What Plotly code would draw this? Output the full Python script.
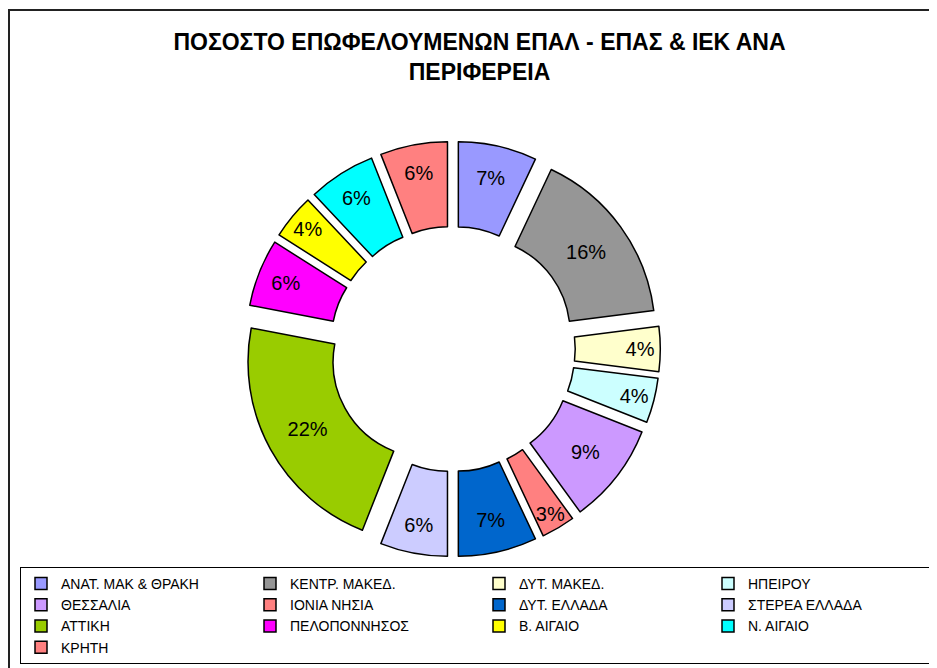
import plotly.graph_objects as go

regions = ["ΑΝΑΤ. ΜΑΚ & ΘΡΑΚΗ", "ΚΕΝΤΡ. ΜΑΚΕΔ.", "ΔΥΤ. ΜΑΚΕΔ.", "ΗΠΕΙΡΟΥ",
           "ΘΕΣΣΑΛΙΑ", "ΙΟΝΙΑ ΝΗΣΙΑ", "ΔΥΤ. ΕΛΛΑΔΑ", "ΣΤΕΡΕΑ ΕΛΛΑΔΑ",
           "ΑΤΤΙΚΗ", "ΠΕΛΟΠΟΝΝΗΣΟΣ", "Β. ΑΙΓΑΙΟ", "Ν. ΑΙΓΑΙΟ", "ΚΡΗΤΗ"]
shares = [7, 16, 4, 4, 9, 3, 7, 6, 22, 6, 4, 6, 6]
colors = ["#9999FF", "#969696", "#FFFFCC", "#CCFFFF", "#CC99FF", "#FF8080",
          "#0066CC", "#CCCCFF", "#99CC00", "#FF00FF", "#FFFF00", "#00FFFF", "#FF8080"]
title_text = "ΠΟΣΟΣΤΟ ΕΠΩΦΕΛΟΥΜΕΝΩΝ ΕΠΑΛ - ΕΠΑΣ & ΙΕΚ ΑΝΑ<br>ΠΕΡΙΦΕΡΕΙΑ"

W, H = 937, 668
OFF = 8  # page body margin offset

def px_x(x):
    return (x - OFF) / W

def px_y(y):
    return 1 - (y - OFF) / H

cx, cy, half = 452.5, 349, 207.8

fig = go.Figure(go.Pie(
    labels=regions,
    values=shares,
    sort=False,
    direction="clockwise",
    rotation=0,
    hole=0.53,
    pull=0.148,
    marker=dict(colors=colors, line=dict(color="black", width=1.5)),
    texttemplate="%{value}%",
    textposition="inside",
    insidetextorientation="horizontal",
    textfont=dict(family="Liberation Sans, Arial", size=20, color="black"),
    domain=dict(x=[px_x(cx - half), px_x(cx + half)],
                y=[px_y(cy + half), px_y(cy - half)]),
    hoverinfo="label+percent",
))

fig.update_layout(
    width=W, height=H,
    margin=dict(l=0, r=0, t=0, b=0, autoexpand=False),
    paper_bgcolor="white",
    plot_bgcolor="white",
    title=dict(
        text=title_text,
        x=px_x(479.5), xanchor="center",
        y=1 - 42 / H, yanchor="top",
        font=dict(family="Liberation Sans, Arial", size=23, color="black", weight="bold"),
    ),
    uniformtext=dict(minsize=20, mode="show"),
    showlegend=True,
    legend=dict(
        orientation="h",
        x=px_x(20), xanchor="left",
        y=px_y(567), yanchor="top",
        entrywidth=184, entrywidthmode="pixels",
        font=dict(family="Liberation Sans, Arial", size=14, color="black"),
        bordercolor="black", borderwidth=1,
        bgcolor="white",
        traceorder="normal",
    ),
    shapes=[dict(
        type="rect", xref="paper", yref="paper",
        x0=1 / W, x1=1.02, y0=-0.02, y1=px_y(10),
        line=dict(color="#222222", width=2),
        fillcolor="rgba(0,0,0,0)", layer="below",
    )],
)

fig.write_html("out.html")
